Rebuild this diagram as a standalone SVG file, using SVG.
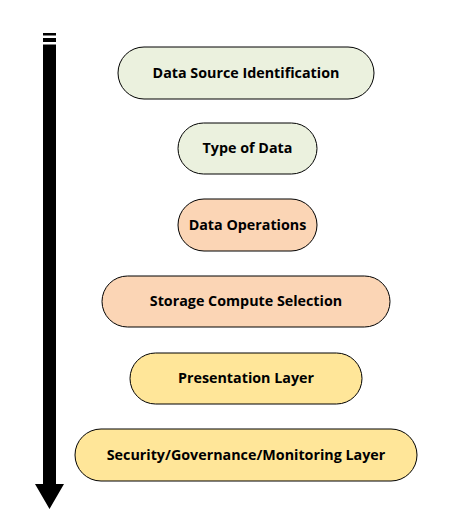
<svg xmlns="http://www.w3.org/2000/svg" width="456" height="519" viewBox="0 0 456 519">
<style>
.n{stroke:#000;stroke-width:1}
.g{fill:#EBF1DE}
.p{fill:#FBD5B5}
.y{fill:#FFE699}
text{font-family:"Open Sans","Noto Sans","DejaVu Sans",sans-serif;font-weight:bold;font-size:14.3px;fill:#000;text-anchor:middle;dominant-baseline:central}
</style>
<rect width="456" height="519" fill="#fff"/>
<g id="connectors">
<rect x="43" y="33" width="13" height="2.5" fill="#000"/>
<rect x="43" y="38" width="13" height="4" fill="#000"/>
<polygon points="43,44.5 56,44.5 56,484 64,484 49.5,509 35,484 43,484" fill="#000"/>
</g>
<g id="n1"><rect class="n g" x="118" y="47" width="256" height="52" rx="26"/><text x="246" y="72">Data Source Identification</text></g>
<g id="n2"><rect class="n g" x="178" y="123" width="139" height="51" rx="25.5"/><text x="247.5" y="147.5">Type of Data</text></g>
<g id="n3"><rect class="n p" x="178" y="199" width="139" height="52" rx="26"/><text x="247.5" y="224">Data Operations</text></g>
<g id="n4"><rect class="n p" x="102" y="276" width="288" height="51" rx="25.5"/><text x="246" y="300.5">Storage Compute Selection</text></g>
<g id="n5"><rect class="n y" x="130" y="353" width="232" height="51" rx="25.5"/><text x="246" y="377.5">Presentation Layer</text></g>
<g id="n6"><rect class="n y" x="75" y="429" width="342" height="52" rx="26"/><text x="246" y="454">Security/Governance/Monitoring Layer</text></g>
</svg>
